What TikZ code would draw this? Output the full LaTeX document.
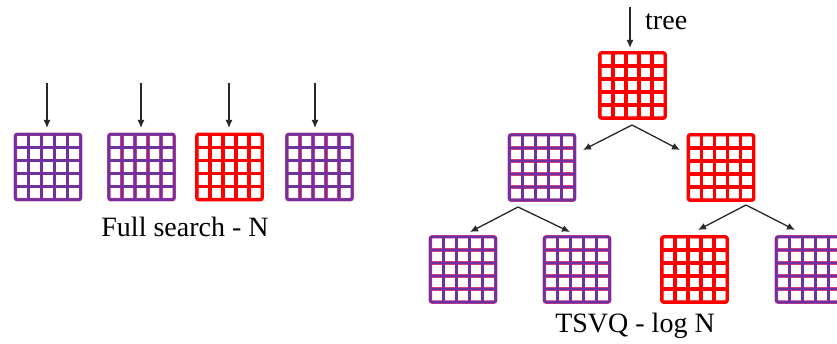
\documentclass[tikz,border=0pt]{standalone}
\usepackage{fontspec}
\setmainfont{Liberation Serif}
\usetikzlibrary{calc,arrows.meta}
\definecolor{gpurple}{RGB}{112,48,160}
\definecolor{gred}{RGB}{255,0,0}
\definecolor{gfringe}{RGB}{210,60,130}
\definecolor{arrowc}{RGB}{40,40,40}
\newcommand{\gridlayer}[2]{%
  \draw[#1,line width=#2,rounded corners=2pt] (gnw) rectangle (gse);
  \foreach \i in {1,...,4}{
    \draw[#1,line width=#2] ($(gnw)!\i/5!(gne)$) -- ($(gsw)!\i/5!(gse)$);
    \draw[#1,line width=#2] ($(gnw)!\i/5!(gsw)$) -- ($(gne)!\i/5!(gse)$);
  }}
\tikzset{
  x=1pt,y=1pt,
  gridbox/.style 2 args={minimum size=69pt,inner sep=0pt,outer sep=0pt,
    path picture={
      \coordinate (gnw) at ($(path picture bounding box.north west)+(1.8,-1.8)$);
      \coordinate (gne) at ($(path picture bounding box.north east)+(-1.8,-1.8)$);
      \coordinate (gsw) at ($(path picture bounding box.south west)+(1.8,1.8)$);
      \coordinate (gse) at ($(path picture bounding box.south east)+(-1.8,1.8)$);
      \gridlayer{#2}{3.4pt}
      \gridlayer{#1}{2.5pt}
    }},
  pgrid/.style={gridbox={gpurple}{gfringe}},
  rgrid/.style={gridbox={gred}{gred}},
  conn/.style={draw=arrowc,line width=1.3pt,-{Latex[length=8pt,width=7pt]}},
  lbl/.style={font=\fontsize{28}{32}\selectfont,inner sep=0pt}
}
\begin{document}
\begin{tikzpicture}
\useasboundingbox (0,0) rectangle (837,-344);
% full search row
\node[pgrid] (g1) at (48,-167) {};
\node[pgrid] (g2) at (141.5,-167) {};
\node[rgrid] (g3) at (229.5,-167) {};
\node[pgrid] (g4) at (319.5,-167) {};
\coordinate (s1) at (47,-83);
\coordinate (s2) at (141,-83);
\coordinate (s3) at (229,-83);
\coordinate (s4) at (315,-83);
\coordinate (e1) at (47,-128);
\coordinate (e2) at (141,-128);
\coordinate (e3) at (229,-128);
\coordinate (e4) at (315,-128);
\foreach \k in {1,2,3,4}{\draw[conn] (s\k) -- (e\k);}
\node[lbl,anchor=base] (fs) at (185,-237) {Full search - N};
% tree
\node[rgrid] (T)  at (632.5,-85.5) {};
\node[pgrid] (L)  at (542,-167.5) {};
\node[rgrid] (R)  at (721,-167.5) {};
\node[pgrid] (LL) at (463,-269.5) {};
\node[pgrid] (LR) at (577,-269.5) {};
\node[rgrid] (RL) at (694.5,-269.5) {};
\node[pgrid] (RR) at (809,-269.5) {};
\coordinate (ts) at (630,-7);
\coordinate (te) at (630,-48);
\draw[conn] (ts) -- (te);
\node[lbl,anchor=base west] (tree) at (645,-30) {tree};
\coordinate (tb) at (632,-125);
\coordinate (la) at (583,-150);
\coordinate (ra) at (680,-150);
\draw[conn] (tb) -- (la);
\draw[conn] (tb) -- (ra);
\coordinate (lb) at (518,-207);
\coordinate (lla) at (470,-232);
\coordinate (lra) at (570,-232);
\draw[conn] (lb) -- (lla);
\draw[conn] (lb) -- (lra);
\coordinate (rb) at (746,-205);
\coordinate (rla) at (698,-230);
\coordinate (rra) at (795,-230);
\draw[conn] (rb) -- (rla);
\draw[conn] (rb) -- (rra);
\node[lbl,anchor=base] (ts2) at (635,-332) {TSVQ - log N};
\end{tikzpicture}
\end{document}
